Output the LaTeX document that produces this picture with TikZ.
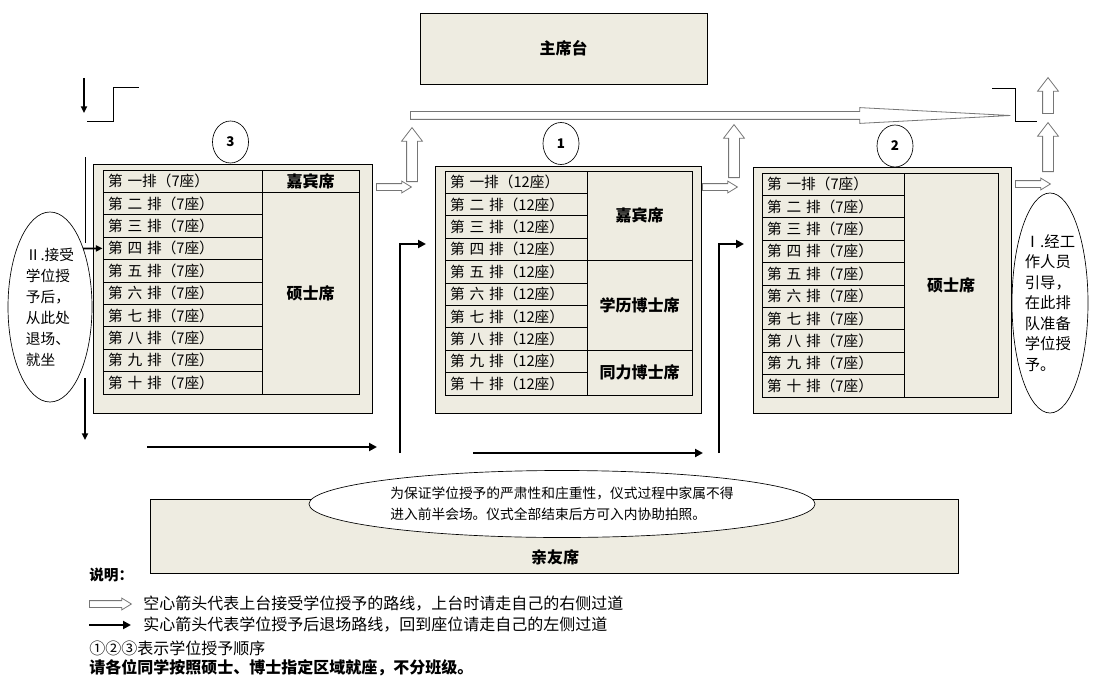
\documentclass[tikz,border=0pt]{standalone}
\usepackage{fontspec}
\setmainfont{Noto Sans CJK SC}
\usetikzlibrary{shapes.geometric,shapes.arrows,arrows.meta}
\definecolor{hallbeige}{RGB}{238,236,225}
\definecolor{arrowgray}{RGB}{118,118,118}
\newcommand{\pxl}{0.75pt}

\begin{document}
\begin{tikzpicture}[x=0.75pt,y=-0.75pt,
  block/.style={draw,fill=hallbeige,line width=0.6pt,inner sep=0pt},
  seatrow/.style={draw,line width=0.6pt,inner xsep=5*\pxl,inner ysep=0pt,minimum height=22.4*\pxl,align=left,font=\fontsize{11}{12}\selectfont},
  seatgroup/.style={draw,line width=0.6pt,inner sep=0pt,font=\fontsize{12}{14}\selectfont\bfseries},
  order/.style={ellipse,draw,fill=white,line width=0.5pt,inner sep=0pt,minimum width=36*\pxl,minimum height=42*\pxl,font=\fontsize{10}{12}\selectfont\bfseries},
  note/.style={ellipse,draw,fill=white,line width=0.5pt,inner sep=0pt},
  hollow/.style={single arrow,draw=arrowgray,fill=white,line width=0.6pt,minimum width=0pt,anchor=tail},
  harrow/.style={hollow,inner xsep=0pt,inner ysep=3*\pxl,single arrow head extend=2.5*\pxl,single arrow tip angle=63,minimum height=35*\pxl},
  varrow/.style={hollow,shape border rotate=90,inner ysep=0pt,inner xsep=5*\pxl,single arrow head extend=5*\pxl,single arrow tip angle=75},
  exit/.style={line width=2pt,-{Triangle[length=6pt,width=6pt]}},
  thinexit/.style={line width=1.3pt,-{Triangle[length=5pt,width=4.5pt]}},
  wall/.style={line width=0.75pt},
  plain/.style={anchor=west,inner sep=0pt,font=\fontsize{12}{14}\selectfont}]
\useasboundingbox (0,0) rectangle (1098,688);

\node[block,minimum width=287*\pxl,minimum height=71*\pxl,font=\fontsize{12}{14}\selectfont\bfseries] (stage) at (563.5,48.5) {主席台};

\node[block,minimum width=279*\pxl,minimum height=249*\pxl] (hall3) at (232.5,288.5) {};
\node[block,minimum width=266*\pxl,minimum height=247*\pxl] (hall1) at (568,289.5) {};
\node[block,minimum width=258*\pxl,minimum height=246*\pxl] (hall2) at (882,290) {};

\foreach \n [count=\i] in {一,二,三,四,五,六,七,八,九,十}{
  \node[seatrow,text width=111.75pt] (lrow\i) at (182.5,{170+22.4*(\i-0.5)}) {第 \n\ifnum\i>1\ \fi 排（7座）};
  \node[seatrow,text width=99pt] (mrow\i) at (516,{171+22.4*(\i-0.5)}) {第 \n\ifnum\i>1\ \fi 排（12座）};
  \node[seatrow,text width=99pt] (rrow\i) at (833,{173+22.4*(\i-0.5)}) {第 \n\ifnum\i>1\ \fi 排（7座）};
}

\node[seatgroup,minimum width=97*\pxl,minimum height=22.4*\pxl] (lguest) at (310.5,181.2) {嘉宾席};
\node[seatgroup,minimum width=97*\pxl,minimum height=201.6*\pxl] (lmaster) at (310.5,293.2) {硕士席};
\node[seatgroup,minimum width=105*\pxl,minimum height=89.6*\pxl] (mguest) at (639.5,215.8) {嘉宾席};
\node[seatgroup,minimum width=105*\pxl,minimum height=89.6*\pxl] (mdoctor) at (639.5,305.4) {学历博士席};
\node[seatgroup,minimum width=105*\pxl,minimum height=44.8*\pxl] (mjoint) at (639.5,372.6) {同力博士席};
\node[seatgroup,minimum width=94*\pxl,minimum height=224*\pxl] (rmaster) at (951,285) {硕士席};

\node[order] (n3) at (230.5,142) {3};
\node[order] (n1) at (561,143.5) {1};
\node[order] (n2) at (895,146) {2};

\node[note,minimum width=84*\pxl,minimum height=190*\pxl,align=left,font=\fontsize{11}{15.75}\selectfont] (exitnote) at (50,307) {Ⅱ.接受\\学位授\\予后，\\从此处\\退场、\\就坐};
\node[note,minimum width=76*\pxl,minimum height=220*\pxl,align=left,font=\fontsize{11.5}{15.4}\selectfont] (queuenote) at (1050,303) {Ⅰ.经工\\作人员\\引导，\\在此排\\队准备\\学位授\\予。};

\node[harrow] (go1) at (376,187) {};
\node[harrow] (go2) at (702,187) {};
\node[harrow] (go3) at (1015,184) {};
\node[varrow,minimum height=54*\pxl] (up1) at (412,182) {};
\node[varrow,minimum height=53*\pxl] (up2) at (734,178) {};
\node[varrow,minimum height=49*\pxl] (up3) at (1048,172) {};
\node[varrow,minimum height=36*\pxl] (up4) at (1048,114) {};
\node[hollow,inner xsep=0pt,inner ysep=3.5*\pxl,single arrow head extend=4*\pxl,single arrow tip angle=6,minimum height=600*\pxl] (cross) at (410,115.5) {};

\draw[wall] (87,122) -- (113,122) -- (113,88) -- (139,88);
\draw[wall] (992,89) -- (1015,89) -- (1015,122) -- (1037,122);
\draw[wall] (85,157) -- (85,243);

\coordinate (d1) at (84,78);
\coordinate (d2) at (84,113);
\coordinate (d3) at (85,378);
\coordinate (d4) at (85,440);
\coordinate (w1) at (83,248.4);
\draw[thinexit] (d1) -- (d2);
\draw[thinexit] (d3) -- (d4);
\draw[thinexit] (w1) -- (lrow4.west);

\coordinate (s1) at (147,447);
\coordinate (t1) at (377,447);
\coordinate (s2) at (473,453);
\coordinate (t2) at (703,453);
\coordinate (s3) at (400,453);
\coordinate (t3) at (426,244);
\coordinate (s4) at (719,453);
\coordinate (t4) at (744,244);
\draw[exit] (s1) -- (t1);
\draw[exit] (s2) -- (t2);
\draw[exit] (s3) |- (t3);
\draw[exit] (s4) |- (t4);

\node[block,minimum width=808*\pxl,minimum height=74*\pxl] (family) at (554,536) {};
\node[font=\fontsize{12}{14}\selectfont\bfseries] (familytext) at (555,557) {亲友席};
\node[note,minimum width=506*\pxl,minimum height=67*\pxl,align=left,font=\fontsize{10.3}{15.75}\selectfont] (rule) at (562,504) {为保证学位授予的严肃性和庄重性，仪式过程中家属不得\\进入前半会场。仪式全部结束后方可入内协助拍照。};

\node[plain,font=\fontsize{11}{13}\selectfont\bfseries] (legend) at (89,575) {说明：};
\node[harrow,minimum height=42*\pxl] (keyhollow) at (89,604) {};
\node[plain] (keyhollowtext) at (143,604) {空心箭头代表上台接受学位授予的路线，上台时请走自己的右侧过道};
\coordinate (k1) at (89,625);
\coordinate (k2) at (131,625);
\draw[exit] (k1) -- (k2);
\node[plain] (keysolidtext) at (143,625) {实心箭头代表学位授予后退场路线，回到座位请走自己的左侧过道};
\node[plain] (keyorder) at (89,648) {①②③表示学位授予顺序};
\node[plain,font=\fontsize{12}{14}\selectfont\bfseries] (keyseat) at (89,668) {请各位同学按照硕士、博士指定区域就座，不分班级。};
\end{tikzpicture}
\end{document}
